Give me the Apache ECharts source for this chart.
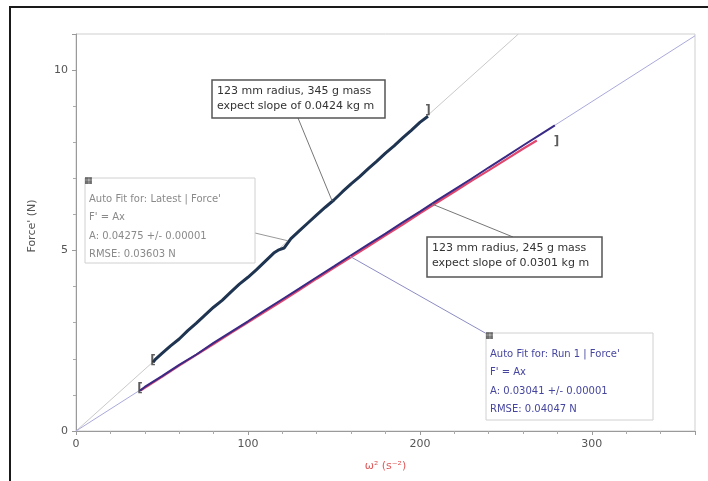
<!DOCTYPE html>
<html><head><meta charset="utf-8">
<script src="https://cdn.jsdelivr.net/npm/echarts@6/dist/echarts.min.js"></script>
<style>html,body{margin:0;padding:0;background:#fff}#c{width:708px;height:481px}</style>
</head><body><div id="c"></div>
<script>
// ---- data ----
const latestData = [[44.8,1.90],[46,1.98],[50,2.15],[55,2.36],[60,2.55],[65,2.78],[70,2.99],[75,3.21],[80,3.43],[85,3.62],[90,3.85],[95,4.07],[100,4.26],[105,4.47],[110,4.70],[115,4.93],[118,5.02],[121,5.07],[125,5.33],[130,5.55],[135,5.77],[140,5.99],[145,6.20],[150,6.40],[155,6.63],[160,6.85],[165,7.05],[170,7.27],[175,7.48],[180,7.70],[185,7.90],[190,8.12],[195,8.33],[200,8.55],[204.7,8.72]];
const run1Data = [[37.2,1.12],[40,1.22],[50,1.52],[60,1.83],[70,2.12],[80,2.44],[90,2.74],[100,3.04],[110,3.35],[120,3.65],[130,3.95],[140,4.26],[150,4.56],[160,4.87],[170,5.17],[180,5.47],[190,5.78],[200,6.08],[210,6.39],[220,6.69],[230,6.99],[240,7.30],[250,7.60],[260,7.91],[270,8.21],[278.5,8.47]];
const run1RedData = [[37.5,1.12],[50,1.50],[60,1.81],[70,2.11],[80,2.41],[90,2.71],[100,3.01],[110,3.31],[120,3.61],[130,3.91],[140,4.22],[150,4.52],[160,4.82],[170,5.12],[180,5.42],[190,5.72],[200,6.03],[210,6.33],[220,6.63],[230,6.93],[240,7.22],[250,7.52],[260,7.82],[268,8.05]];
const fitLatest = [[0,0],[257.3,11]];
const fitRun1 = [[0,0],[360,10.95]];
const bracketMarks = [[44.8,1.95,'['],[37.2,1.17,'['],[204.7,8.86,']'],[279.5,8.02,']']];
const xTickLabels = ['0','100','200','300'];
const yTickLabels = ['0','5','10'];
const noteLatestText = ['123 mm radius, 345 g mass','expect slope of 0.0424 kg m'];
const noteRun1Text = ['123 mm radius, 245 g mass','expect slope of 0.0301 kg m'];
const fitLatestText = ["Auto Fit for: Latest | Force'","F' = Ax","A: 0.04275 +/- 0.00001","RMSE: 0.03603 N"];
const fitRun1Text = ["Auto Fit for: Run 1 | Force'","F' = Ax","A: 0.03041 +/- 0.00001","RMSE: 0.04047 N"];
// anchor points (data coords) where callout lines touch the runs
const anchorNoteLatest = [149, 6.37];
const anchorFitLatest = [123.3, 5.27];
const anchorNoteRun1 = [207, 6.29];
const anchorFitRun1 = [159.3, 4.84];

const FONT = '"DejaVu Sans", sans-serif';
const chart = echarts.init(document.getElementById('c'));
chart.setOption({
  backgroundColor: '#fff',
  animation: false,
  grid: {left: 76, right: 13, top: 34, bottom: 50, show: true, borderColor: '#cfcfcf', borderWidth: 1},
  xAxis: {
    type: 'value', min: 0, max: 360, interval: 100,
    name: 'ω² (s⁻²)', nameLocation: 'middle', nameGap: 30,
    nameTextStyle: {color: '#e05a5a', fontSize: 11, fontFamily: FONT},
    axisLine: {lineStyle: {color: '#9a9a9a', width: 1}},
    axisTick: {show: true, length: 4, lineStyle: {color: '#9a9a9a'}},
    minorTick: {show: true, splitNumber: 5, length: 3, lineStyle: {color: '#aaa'}},
    splitLine: {show: false},
    axisLabel: {color: '#555', fontSize: 11, fontFamily: FONT, margin: 8, showMaxLabel: false,
      formatter: v => xTickLabels.includes(String(v)) ? String(v) : ''}
  },
  yAxis: {
    type: 'value', min: 0, max: 11, interval: 5,
    axisLine: {show: true, lineStyle: {color: '#9a9a9a', width: 1}},
    axisTick: {show: true, length: 4, lineStyle: {color: '#9a9a9a'}},
    minorTick: {show: true, splitNumber: 5, length: 3, lineStyle: {color: '#aaa'}},
    splitLine: {show: false},
    axisLabel: {color: '#555', fontSize: 11, fontFamily: FONT, margin: 8, showMaxLabel: false,
      formatter: v => yTickLabels.includes(String(v)) ? String(v) : ''}
  },
  series: [
    {type: 'line', data: fitLatest, symbol: 'none', silent: true, lineStyle: {color: '#c9c9c9', width: 1}, z: 1},
    {type: 'line', data: fitRun1, symbol: 'none', silent: true, lineStyle: {color: '#a9a9dc', width: 1}, z: 1},
    {type: 'line', data: run1RedData, symbol: 'none', lineStyle: {color: '#e0466e', width: 2.2}, z: 2},
    {type: 'line', data: run1Data, symbol: 'none', lineStyle: {color: '#3a2a86', width: 2}, z: 3},
    {type: 'line', data: latestData, symbol: 'none', lineStyle: {color: '#1f3450', width: 3}, z: 4},
    {type: 'scatter', data: bracketMarks, symbolSize: 0, z: 5,
      label: {show: true, position: 'inside', formatter: p => p.data[2], color: '#333', fontSize: 12, fontWeight: 'bold', fontFamily: FONT}}
  ]
});

function px(pt){ return chart.convertToPixel({gridIndex: 0}, pt); }
const aNL = px(anchorNoteLatest), aFL = px(anchorFitLatest), aNR = px(anchorNoteRun1), aFR = px(anchorFitRun1);

function noteBox(x, y, w, h, lines){
  return [
    {type: 'rect', shape: {x: x, y: y, width: w, height: h}, style: {fill: '#fff', stroke: '#555', lineWidth: 1.5}, z: 20},
    {type: 'text', x: x + 5, y: y + 4, z: 21, style: {text: lines.join('\n'), font: '11px ' + FONT, fill: '#333', lineHeight: 15}}
  ];
}
function fitBox(x, y, w, h, lines, color){
  return [
    {type: 'rect', shape: {x: x, y: y, width: w, height: h}, style: {fill: '#fff', stroke: '#d0d0d0', lineWidth: 1}, z: 20},
    {type: 'text', x: x - 1, y: y - 2, z: 21, style: {text: '▦', font: '9px ' + FONT, fill: '#444'}},
    {type: 'text', x: x + 4, y: y + 12, z: 21, style: {text: lines.join('\n'), font: '10px ' + FONT, fill: color, lineHeight: 18.5}}
  ];
}
const g = [
  {type: 'rect', shape: {x: 10, y: 7, width: 740, height: 520}, style: {fill: 'none', stroke: '#1a1a1a', lineWidth: 2}, z: 30, silent: true},
  {type: 'text', x: 32, y: 226, rotation: Math.PI/2, z: 21, style: {text: "Force' (N)", font: '11px ' + FONT, fill: '#555', align: 'center', verticalAlign: 'middle'}},
  {type: 'line', shape: {x1: 298, y1: 118, x2: aNL[0], y2: aNL[1]}, style: {stroke: '#777', lineWidth: 1}, z: 19},
  {type: 'line', shape: {x1: 255, y1: 233, x2: aFL[0], y2: aFL[1]}, style: {stroke: '#999', lineWidth: 1}, z: 19},
  {type: 'line', shape: {x1: 513, y1: 237, x2: aNR[0], y2: aNR[1]}, style: {stroke: '#777', lineWidth: 1}, z: 19},
  {type: 'line', shape: {x1: 487, y1: 334, x2: aFR[0], y2: aFR[1]}, style: {stroke: '#8c8cc4', lineWidth: 1}, z: 19},
  ...noteBox(212, 80, 173, 38, noteLatestText),
  ...noteBox(427, 237, 175, 40, noteRun1Text),
  ...fitBox(85, 178, 170, 85, fitLatestText, '#8a8a8a'),
  ...fitBox(486, 333, 167, 87, fitRun1Text, '#4646a0')
];
chart.setOption({graphic: g});
</script>
</body></html>
